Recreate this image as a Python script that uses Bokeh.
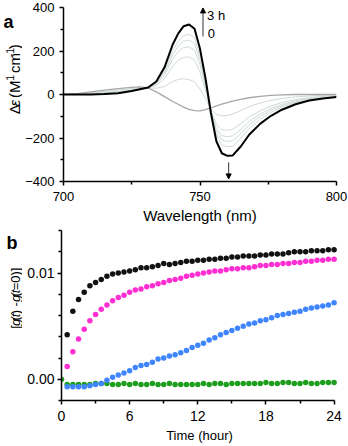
import math
from bokeh.plotting import figure
from bokeh.layouts import column, row
from bokeh.models import FixedTicker, Label, Arrow, NormalHead, NumeralTickFormatter, Range1d
from bokeh.embed import file_html
from bokeh.resources import INLINE

# ---------------- panel a data ----------------
wavelength = [700, 705, 710, 715, 720, 725, 728, 731, 734, 737, 740, 742, 744, 746, 748, 750,
              752, 754, 756, 758, 760, 762, 765, 768, 772, 776, 780, 785, 790, 795, 800]
cd_0h = [0, 4, 12, 20, 27, 33, 35, 30, 12, -10, -32, -45, -58, -68, -74, -75,
         -70, -62, -52, -44, -37, -30, -22, -15, -9, -4, -2, 0, 0, 0, 0]
cd_t1 = [0, 3, 8, 14, 20, 27, 31, 31, 29, 37, 60, 69, 72, 68, 58, 25,
         -19, -68, -91, -98, -96, -90, -74, -56, -39, -27, -18, -11, -7, -4, -3]
cd_t2 = [0, 2, 5, 9, 14, 22, 28, 31, 42, 74, 130, 157, 171, 173, 159, 102,
         20, -74, -137, -162, -164, -160, -134, -103, -75, -53, -37, -23, -15, -9, -6]
cd_t3 = [0, 1, 3, 7, 12, 20, 27, 31, 48, 90, 162, 196, 216, 219, 204, 136,
         37, -77, -156, -189, -194, -190, -160, -124, -90, -64, -46, -29, -18, -12, -8]
cd_t4 = [0, 1, 2, 5, 10, 19, 26, 32, 51, 101, 183, 222, 245, 250, 234, 159,
         49, -79, -171, -209, -216, -213, -180, -139, -101, -73, -52, -33, -20, -13, -9]
cd_t5 = [0, 0, 1, 4, 8, 18, 25, 32, 55, 110, 201, 244, 271, 277, 261, 179,
         59, -81, -187, -232, -240, -238, -201, -156, -114, -82, -58, -37, -23, -15, -10]
cd_3h = [0, 0, 0, 2, 6, 16, 24, 32, 60, 125, 230, 280, 314, 322, 302, 210,
         75, -85, -215, -270, -282, -280, -238, -185, -135, -98, -70, -45, -28, -18, -12]

wl_ticks = [700, 750, 800]
wl_minor = [725, 775]
cd_ticks = [-400, -200, 0, 200, 400]
cd_minor = [-300, -100, 100, 300]

# ---------------- panel b data ----------------
hours = [0.0, 0.5, 1.0, 1.5, 2.0, 2.5, 3.0, 3.5, 4.0, 4.5, 5.0, 5.5, 6.0, 6.5, 7.0, 7.5,
         8.0, 8.5, 9.0, 9.5, 10.0, 10.5, 11.0, 11.5, 12.0, 12.5, 13.0, 13.5, 14.0, 14.5,
         15.0, 15.5, 16.0, 16.5, 17.0, 17.5, 18.0, 18.5, 19.0, 19.5, 20.0, 20.5, 21.0,
         21.5, 22.0, 22.5, 23.0, 23.5, 24.0]
g_black = [0.0042, 0.0064, 0.0075, 0.0082, 0.0088, 0.0091, 0.0094, 0.0097, 0.0099, 0.0100,
           0.0101, 0.0102, 0.0103, 0.0105, 0.0105, 0.0106, 0.0107, 0.0109, 0.0108, 0.0109,
           0.0110, 0.0111, 0.0111, 0.0112, 0.0112, 0.0113, 0.0113, 0.0114, 0.0114, 0.0115,
           0.0115, 0.0116, 0.0116, 0.0116, 0.0117, 0.0117, 0.0118, 0.0118, 0.0118, 0.0119,
           0.0120, 0.0120, 0.0120, 0.0121, 0.0121, 0.0121, 0.0122, 0.0122]
g_magenta = [0.0012, 0.0026, 0.0038, 0.0047, 0.0055, 0.0061, 0.0066, 0.0070, 0.0074, 0.0077,
             0.0079, 0.0082, 0.0084, 0.0085, 0.0087, 0.0088, 0.0090, 0.0091, 0.0093, 0.0094,
             0.0095, 0.0097, 0.0098, 0.0099, 0.0100, 0.0101, 0.0102, 0.0102, 0.0103, 0.0104,
             0.0104, 0.0105, 0.0105, 0.0106, 0.0107, 0.0107, 0.0108, 0.0108, 0.0109, 0.0109,
             0.0110, 0.0110, 0.0111, 0.0111, 0.0112, 0.0112, 0.0113, 0.0113]
g_blue = [-0.0007, -0.0007, -0.0007, -0.0007, -0.0006, -0.0005, -0.0004, -0.0001, 0.0002, 0.0004,
          0.0006, 0.0008, 0.0011, 0.0013, 0.0014, 0.0016, 0.0019, 0.0020, 0.0022, 0.0023,
          0.0025, 0.0027, 0.0030, 0.0032, 0.0034, 0.0037, 0.0039, 0.0042, 0.0044, 0.0046,
          0.0048, 0.0050, 0.0052, 0.0053, 0.0055, 0.0056, 0.0058, 0.0060, 0.0061, 0.0062,
          0.0063, 0.0064, 0.0066, 0.0067, 0.0068, 0.0069, 0.0070, 0.0072]
g_green = [0.0000,
           -0.0005, -0.0005, -0.0005, -0.0005, -0.0005, -0.0004, -0.0004, -0.0004, -0.0005, -0.0005,
           -0.0004, -0.0005, -0.0004, -0.0005, -0.0005, -0.0004, -0.0005, -0.0005, -0.0004, -0.0005,
           -0.0005, -0.0005, -0.0005, -0.0005, -0.0004, -0.0005, -0.0004, -0.0004, -0.0005, -0.0004,
           -0.0004, -0.0004, -0.0004, -0.0004, -0.0004, -0.0003, -0.0004, -0.0004, -0.0003, -0.0003,
           -0.0004, -0.0004, -0.0003, -0.0004, -0.0004, -0.0003, -0.0003, -0.0003]

h_ticks = [0, 6, 12, 18, 24]
h_minor = [3, 9, 15, 21]
g_ticks = [0.0, 0.01]
g_minor = [-0.002, 0.002, 0.004, 0.006, 0.008, 0.012, 0.014]

FONT = "Liberation Sans"

# Arial-metric advance widths (per 1000 em) used to place the pieces of rotated labels
CW = {' ': 278, '(': 333, ')': 333, '[': 278, ']': 278, '-': 333, '=': 584, '0': 556,
      '1': 556, 'M': 833, 'c': 500, 'm': 833, 'g': 556, 't': 278, 'Δ': 668, 'ε': 460}


def tw(s, size):
    return sum(CW.get(ch, 556) for ch in s) * size / 1000.0


def vlabel(p, pieces, x, yc, size):
    """Rotated label made of differently styled pieces (pixel-unit strip figure)."""
    def piece_len(t, sup):
        fs = size * 0.7 if sup else size
        return tw(t, fs) + (1.5 if sup else 0)
    total = sum(piece_len(t, sup) for t, st, sup in pieces)
    y = yc - total / 2.0
    for t, st, sup in pieces:
        fs = size * 0.7 if sup else size
        lead = len(t) - len(t.lstrip(' '))
        y += lead * 278 * fs / 1000.0
        s = t.strip(' ')
        p.add_layout(Label(x=x - (5 if sup else 0), y=y + (0.5 if sup else 0),
                           text=s, angle=math.pi / 2, text_align="left", text_baseline="middle",
                           text_font=FONT, text_font_size=f"{fs:.1f}px", text_font_style=st,
                           text_color="black"))
        trail = len(t.lstrip(' ')) - len(s)
        y += tw(s, fs) + trail * 278 * fs / 1000.0 + (1.5 if sup else 0)


def strip_fig(w, h):
    s = figure(width=w, height=h, output_backend="svg", toolbar_location=None,
               x_range=Range1d(0, w), y_range=Range1d(0, h),
               min_border_left=0, min_border_right=0, min_border_top=0, min_border_bottom=0)
    s.axis.visible = False
    s.grid.visible = False
    s.outline_line_color = None
    s.background_fill_color = "white"
    s.border_fill_color = "white"
    return s


def style_axes(p, tick_size, title_size):
    for ax in (p.xaxis[0], p.yaxis[0]):
        ax.axis_line_width = 1.5
        ax.axis_line_color = "black"
        ax.major_tick_line_width = 1.5
        ax.minor_tick_line_width = 1.5
        ax.major_tick_line_color = "black"
        ax.minor_tick_line_color = "black"
        ax.major_tick_in = 0
        ax.major_tick_out = 4
        ax.minor_tick_in = 0
        ax.minor_tick_out = 3
        ax.major_label_text_font = FONT
        ax.major_label_text_font_size = f"{tick_size}px"
        ax.major_label_text_color = "black"
        ax.axis_label_text_font = FONT
        ax.axis_label_text_font_size = f"{title_size}px"
        ax.axis_label_text_font_style = "normal"
        ax.axis_label_text_color = "black"
    p.grid.visible = False
    p.outline_line_color = None
    p.background_fill_color = "white"
    p.border_fill_color = "white"


STRIP = 22

# ---------------- panel a ----------------
A_H = 226
pa = figure(width=348 - STRIP, height=A_H, output_backend="svg", toolbar_location=None,
            x_range=Range1d(700, 800), y_range=Range1d(-400, 400),
            min_border_left=60 - STRIP, min_border_right=12, min_border_top=7, min_border_bottom=45)
style_axes(pa, 13, 15)
pa.xaxis.ticker = FixedTicker(ticks=wl_ticks, minor_ticks=wl_minor)
pa.yaxis.ticker = FixedTicker(ticks=cd_ticks, minor_ticks=cd_minor)
pa.xaxis.axis_label = "Wavelength (nm)"
pa.xaxis.major_label_standoff = 6
pa.xaxis.axis_label_standoff = 3
pa.yaxis.major_label_standoff = 5

for series in (cd_t1, cd_t2, cd_t3, cd_t4, cd_t5):
    pa.line(wavelength, series, line_color="#d0d9d9", line_width=1)
pa.line(wavelength, cd_0h, line_color="#a6a6a6", line_width=1.3)
pa.line(wavelength, cd_3h, line_color="black", line_width=2)

pa.add_layout(Arrow(x_start=751.1, y_start=267, x_end=751.1, y_end=398, line_width=1,
                    line_color="#333333",
                    end=NormalHead(size=5, fill_color="black", line_color="black")))
pa.add_layout(Arrow(x_start=760.5, y_start=-312, x_end=760.5, y_end=-388, line_width=1,
                    line_color="#333333",
                    end=NormalHead(size=5, fill_color="black", line_color="black")))
pa.add_layout(Label(x=752.6, y=364, text="3 h", text_font=FONT, text_font_size="13px",
                    text_baseline="middle", text_align="left", text_color="black"))
pa.add_layout(Label(x=752.8, y=280, text="0", text_font=FONT, text_font_size="13px",
                    text_baseline="middle", text_align="left", text_color="black"))

sa = strip_fig(STRIP, A_H)
sa.add_layout(Label(x=3, y=A_H - 19, text="a", text_font=FONT, text_font_size="18px",
                    text_font_style="bold", text_baseline="alphabetic", text_align="left",
                    text_color="black"))
vlabel(sa, [("Δ", "normal", False), ("ε", "italic", False), (" (M", "normal", False),
            ("-1", "normal", True), (" cm", "normal", False), ("-1", "normal", True),
            (")", "normal", False)], x=14, yc=A_H - 94, size=15)

# ---------------- panel b ----------------
B_H = 220
pb = figure(width=348 - STRIP, height=B_H, output_backend="svg", toolbar_location=None,
            x_range=Range1d(0, 24.3), y_range=Range1d(-0.002, 0.014),
            min_border_left=61 - STRIP, min_border_right=11, min_border_top=4, min_border_bottom=46)
style_axes(pb, 14, 13)
pb.xaxis.ticker = FixedTicker(ticks=h_ticks, minor_ticks=h_minor)
pb.yaxis.ticker = FixedTicker(ticks=g_ticks, minor_ticks=g_minor)
pb.yaxis.formatter = NumeralTickFormatter(format="0.00")
pb.xaxis.bounds = (0, 24)
pb.xaxis.axis_label = "Time (hour)"
pb.xaxis.major_label_standoff = 6
pb.xaxis.axis_label_standoff = 4
pb.yaxis.major_label_standoff = 3

pb.scatter(hours, g_green, size=5.5, fill_color="#1d9e1d", line_color=None)
pb.scatter(hours[1:], g_blue, size=5.5, fill_color="#3f85ff", line_color=None)
pb.scatter(hours[1:], g_magenta, size=5.5, fill_color="#ff2ed2", line_color=None)
pb.scatter(hours[1:], g_black, size=5.5, fill_color="#111111", line_color=None)

sb = strip_fig(STRIP, B_H)
sb.add_layout(Label(x=6, y=B_H - 16, text="b", text_font=FONT, text_font_size="18px",
                    text_font_style="bold", text_baseline="alphabetic", text_align="left",
                    text_color="black"))
vlabel(sb, [("[", "normal", False), ("g", "italic", False), ("(", "normal", False),
            ("t", "italic", False), (") - ", "normal", False), ("g", "italic", False),
            ("(", "normal", False), ("t", "italic", False), ("=0)]", "normal", False)],
       x=15, yc=B_H - 91, size=13)

layout = column(row(sa, pa), row(sb, pb))
open("out.html", "w").write(file_html(layout, INLINE))
